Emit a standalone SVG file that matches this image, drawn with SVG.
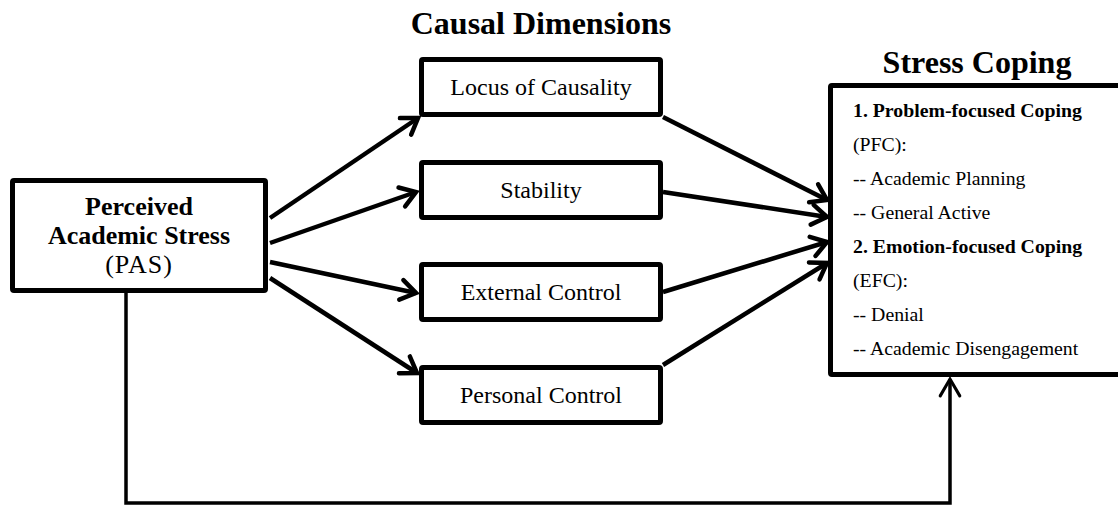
<svg xmlns="http://www.w3.org/2000/svg" width="1118" height="506" viewBox="0 0 1118 506">
<style>
text{font-family:"Liberation Serif","Times New Roman",serif;fill:#000}
.title{font-size:32px;font-weight:bold;text-anchor:middle}
.box{fill:#fff;stroke:#000;stroke-width:5}
.lbl{font-size:24px;text-anchor:middle}
.pas{font-size:26px;text-anchor:middle}
.b{font-weight:bold}
.list{font-size:19.8px}
.conn{stroke:#000;stroke-width:4.5;fill:none;marker-end:url(#arr)}
.fb{stroke:#000;stroke-width:3.5;fill:none;marker-end:url(#arr2)}
</style>
<defs>
<marker id="arr" markerUnits="userSpaceOnUse" markerWidth="40" markerHeight="40" viewBox="-20 -20 40 40" refX="0" refY="0" orient="auto">
<path d="M-15,-10 L0,0 L-15,10" fill="none" stroke="#000" stroke-width="4.5" stroke-linecap="round" stroke-linejoin="miter"/>
</marker>
<marker id="arr2" markerUnits="userSpaceOnUse" markerWidth="40" markerHeight="40" viewBox="-25 -20 45 40" refX="0" refY="0" orient="auto">
<path d="M-19,-11 L0,0 L-19,11" fill="none" stroke="#000" stroke-width="3.5" stroke-linecap="round"/>
</marker>
</defs>
<text class="title" x="541" y="34">Causal Dimensions</text>
<text class="title" x="977" y="73">Stress Coping</text>
<g id="connectors">
<line class="conn" x1="270" y1="218" x2="418" y2="118"/>
<line class="conn" x1="270" y1="243" x2="416" y2="192"/>
<line class="conn" x1="270" y1="262" x2="416" y2="293"/>
<line class="conn" x1="270" y1="278" x2="417" y2="373"/>
<line class="conn" x1="663" y1="117" x2="827" y2="200"/>
<line class="conn" x1="663" y1="192" x2="827" y2="217"/>
<line class="conn" x1="663" y1="292" x2="827" y2="242"/>
<line class="conn" x1="663" y1="365" x2="827" y2="263"/>
<polyline class="fb" points="126,293 126,503 950,503 950,379"/>
</g>
<g id="pas">
<rect class="box" x="12.5" y="180.5" width="253" height="110" rx="1.5"/>
<text class="pas b" x="139" y="215">Perceived</text>
<text class="pas b" x="139" y="244">Academic Stress</text>
<text class="pas" x="139" y="273" letter-spacing="1">(PAS)</text>
</g>
<g id="locus">
<rect class="box" x="421.5" y="59.5" width="239" height="55" rx="1.5"/>
<text class="lbl" x="541" y="95">Locus of Causality</text>
</g>
<g id="stability">
<rect class="box" x="421.5" y="162.5" width="239" height="55" rx="1.5"/>
<text class="lbl" x="541" y="198">Stability</text>
</g>
<g id="external">
<rect class="box" x="421.5" y="264.5" width="239" height="55" rx="1.5"/>
<text class="lbl" x="541" y="300">External Control</text>
</g>
<g id="personal">
<rect class="box" x="421.5" y="367.5" width="239" height="55" rx="1.5"/>
<text class="lbl" x="541" y="403">Personal Control</text>
</g>
<g id="coping">
<rect class="box" x="830.5" y="85.5" width="300" height="289" rx="1.5"/>
<text class="list b" x="853" y="117">1. Problem-focused Coping</text>
<text class="list" x="853" y="151">(PFC):</text>
<text class="list" x="853" y="185">-- Academic Planning</text>
<text class="list" x="853" y="219">-- General Active</text>
<text class="list b" x="853" y="253">2. Emotion-focused Coping</text>
<text class="list" x="853" y="287">(EFC):</text>
<text class="list" x="853" y="321">-- Denial</text>
<text class="list" x="853" y="355">-- Academic Disengagement</text>
</g>
</svg>
